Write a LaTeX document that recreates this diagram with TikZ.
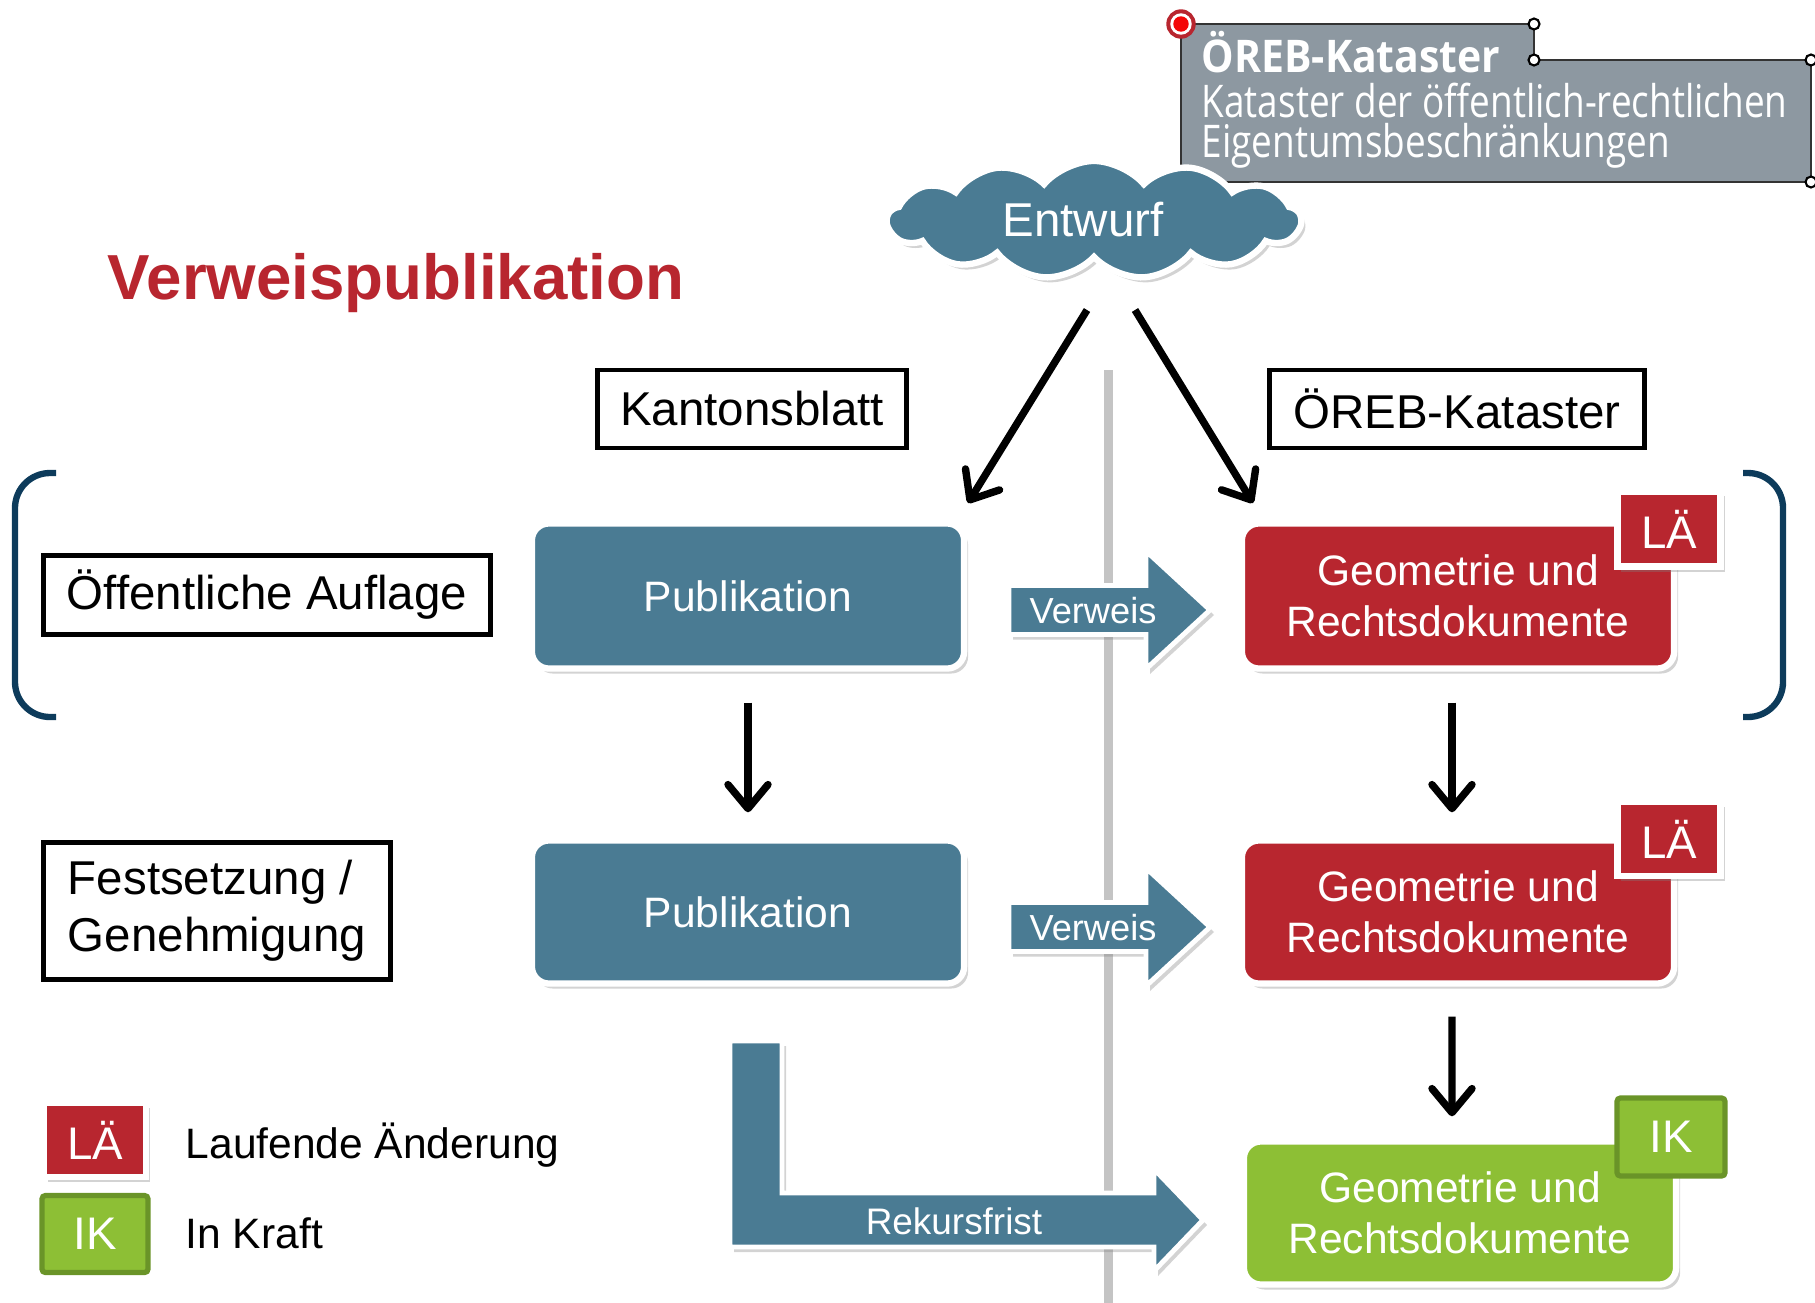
\documentclass[tikz,border=0pt]{standalone}
\usepackage{fontspec}
\setmainfont{Liberation Sans}
\newfontfamily\frutfont[FakeStretch=0.82]{Open Sans}
\newfontfamily\frutboldfont[FakeStretch=0.91]{Open Sans}
\usepackage[]{tikz}
\usetikzlibrary{arrows.meta}
\usetikzlibrary{shapes.symbols}
\usetikzlibrary{shadows}
\definecolor{oblue}{HTML}{4A7B93}
\definecolor{ored}{HTML}{B8262F}
\definecolor{ogreen}{HTML}{8DBF35}
\definecolor{ogreendark}{HTML}{6A9428}
\definecolor{ograybox}{HTML}{8D98A1}
\definecolor{onavy}{HTML}{0D3B5B}
\definecolor{oline}{HTML}{C4C4C4}
\tikzset{softshadow/.style = {drop shadow = {opacity = 0.35, shadow xshift = 0.04cm, shadow yshift = -0.05cm}}}
\tikzset{labelbox/.style = {draw, line width = 1.4pt, inner sep = 0, font = \fontsize{13.5}{16.2}\selectfont}}
\tikzset{procbox/.style = {rounded corners = 0.17cm, draw = white, line width = 1.8pt, text = white, inner sep = 0, align = center, minimum width = 4.32cm, font = \fontsize{12.1}{14.5}\selectfont, softshadow}}
\tikzset{tagbox/.style = {text = white, inner sep = 0, font = \fontsize{13}{15}\selectfont}}
\tikzset{latag/.style = {tagbox, fill = ored, draw = white, line width = 1.8pt, softshadow}}
\tikzset{iktag/.style = {tagbox, fill = ogreen, draw = ogreendark, line width = 1.5pt, rounded corners = 1pt}}
\tikzset{blockarrow/.style = {fill = oblue, draw = white, line width = 1.4pt, softshadow}}
\tikzset{arr/.style = {line width = 2.1pt, -{Straight Barb[round, length = 0.24cm, width = 0.4cm]}}}
\tikzset{bracket/.style = {draw = onavy, line width = 1.8pt, rounded corners = 0.35cm}}
\begin{document}
\begin{tikzpicture}[x = 0.01cm, y = -0.01cm]
            \useasboundingbox (0,0) rectangle (1815,1303);
            % grey separator
            \draw [line width = 0.09cm, oline] (1108,370)--(1108,1303);
            % box of the cadastre, top right
            \filldraw [fill = ograybox, draw = black!80, line width = 0.8pt] (1181,24)--(1534,24)--(1534,60)--(1811,60)--(1811,182)--(1181,182)--cycle;
            \filldraw [fill = white, draw = black, line width = 0.6pt] (1534,24) circle (0.055cm) (1534,60) circle (0.055cm) (1811,60) circle (0.055cm) (1811,182) circle (0.055cm);
            \filldraw [ored] (1181,24) circle (0.14cm);
            \filldraw [white] (1181,24) circle (0.1cm);
            \filldraw [red!85!ored] (1181,24) circle (0.07cm);
            \node [anchor = base west, inner sep = 0, text = white, font = \frutboldfont\bfseries\fontsize{12.8}{15}\selectfont] (orebkopf) at (1201,72) {ÖREB-Kataster};
            \node [anchor = base west, inner sep = 0, text = white, font = \frutfont\fontsize{12.8}{15}\selectfont] (orebzeilea) at (1201,117) {Kataster der öffentlich-rechtlichen};
            \node [anchor = base west, inner sep = 0, text = white, font = \frutfont\fontsize{12.8}{15}\selectfont] (orebzeileb) at (1201,157) {Eigentumsbeschränkungen};
            % draft
            \node [cloud, cloud puffs = 13, cloud puff arc = 100, aspect = 3.4, fill = oblue, draw = white, line width = 1.8pt, minimum width = 4.13cm, minimum height = 1.18cm, inner sep = 0, softshadow, label = {[xshift = -0.11cm, text = white, font = \fontsize{13.5}{16}\selectfont]center:Entwurf}] (entwurf) at (1094,220) {};
            \node [anchor = base west, inner sep = 0, text = ored, font = \bfseries\fontsize{18.1}{21}\selectfont] (titel) at (107,299) {Verweispublikation};
            % column heads and stages
            \node [labelbox, minimum width = 3.09cm, minimum height = 0.78cm] (kantonsblatt) at (752,409) {Kantonsblatt};
            \node [labelbox, minimum width = 3.74cm, minimum height = 0.78cm] (orebkataster) at (1457,409) {ÖREB-Kataster};
            \node [labelbox, minimum width = 4.47cm, minimum height = 0.79cm] (auflage) at (267,595) {Öffentliche Auflage};
            \node [labelbox, minimum width = 3.46cm, minimum height = 1.37cm, align = left] (festsetzung) at (217,911) {Festsetzung /\\Genehmigung};
            \draw [bracket] (56,473)--(15,473)--(15,717)--(56,717);
            \draw [bracket] (1743,473)--(1783,473)--(1783,717)--(1743,717);
            % boxes
            \node [procbox, fill = oblue, minimum height = 1.45cm] (puba) at (748,596) {Publikation};
            \node [procbox, fill = oblue, minimum height = 1.43cm] (pubb) at (748,912) {Publikation};
            \node [procbox, fill = ored, minimum height = 1.45cm] (geoa) at (1458,596) {Geometrie und\\Rechtsdokumente};
            \node [procbox, fill = ored, minimum height = 1.43cm] (geob) at (1458,912) {Geometrie und\\Rechtsdokumente};
            \node [procbox, fill = ogreen, minimum height = 1.43cm] (geoc) at (1460,1213) {Geometrie und\\Rechtsdokumente};
            \node [latag, minimum width = 1.03cm, minimum height = 0.75cm] (taga) at (1669,529) {LÄ};
            \node [latag, minimum width = 1.03cm, minimum height = 0.74cm] (tagb) at (1669,839) {LÄ};
            \node [iktag, minimum width = 1.08cm, minimum height = 0.78cm] (tagc) at (1671,1137) {IK};
            % arrows
            \coordinate (entl) at (1087,310);
            \coordinate (entr) at (1135,310);
            \coordinate (pubein) at (968,503);
            \coordinate (geoein) at (1253,503);
            \draw [arr] (entl)--(pubein);
            \draw [arr] (entr)--(geoein);
            \draw [arr, shorten < = 0.31cm, shorten > = 0.25cm] (puba.south)--(pubb.north);
            \draw [arr, shorten < = 0.31cm, shorten > = 0.25cm] ([xshift = -0.06cm]geoa.south)--([xshift = -0.06cm]geob.north);
            \draw [arr, shorten < = 0.30cm, shorten > = 0.22cm] ([xshift = -0.06cm]geob.south)--([xshift = -0.08cm]geoc.north);
            \filldraw [blockarrow] (1009,585.5)--(1146,585.5)--(1146,551)--(1210,610)--(1146,669)--(1146,634.5)--(1009,634.5)--cycle;
            \filldraw [blockarrow] (1009,902.5)--(1146,902.5)--(1146,868)--(1210,927)--(1146,986)--(1146,951.5)--(1009,951.5)--cycle;
            \filldraw [blockarrow] (730,1041)--(782,1041)--(782,1193)--(1154,1193)--(1154,1169)--(1203,1220)--(1154,1271)--(1154,1247)--(730,1247)--cycle;
            \node [text = white, inner sep = 0, font = \fontsize{10.3}{12}\selectfont] (verweisa) at (1093,611) {Verweis};
            \node [text = white, inner sep = 0, font = \fontsize{10.3}{12}\selectfont] (verweisb) at (1093,928) {Verweis};
            \node [anchor = base, text = white, inner sep = 0, font = \fontsize{10.5}{12}\selectfont] (rekursfrist) at (954,1234) {Rekursfrist};
            % legend
            \node [latag, minimum width = 1.02cm, minimum height = 0.74cm] (legla) at (95,1140) {LÄ};
            \node [iktag, minimum width = 1.06cm, minimum height = 0.77cm] (legik) at (95,1234) {IK};
            \node [anchor = base west, inner sep = 0, font = \fontsize{12.1}{14.5}\selectfont] (laufend) at (185,1158) {Laufende Änderung};
            \node [anchor = base west, inner sep = 0, font = \fontsize{12.1}{14.5}\selectfont] (inkraft) at (185,1248) {In Kraft};
        \end{tikzpicture}
\end{document}
